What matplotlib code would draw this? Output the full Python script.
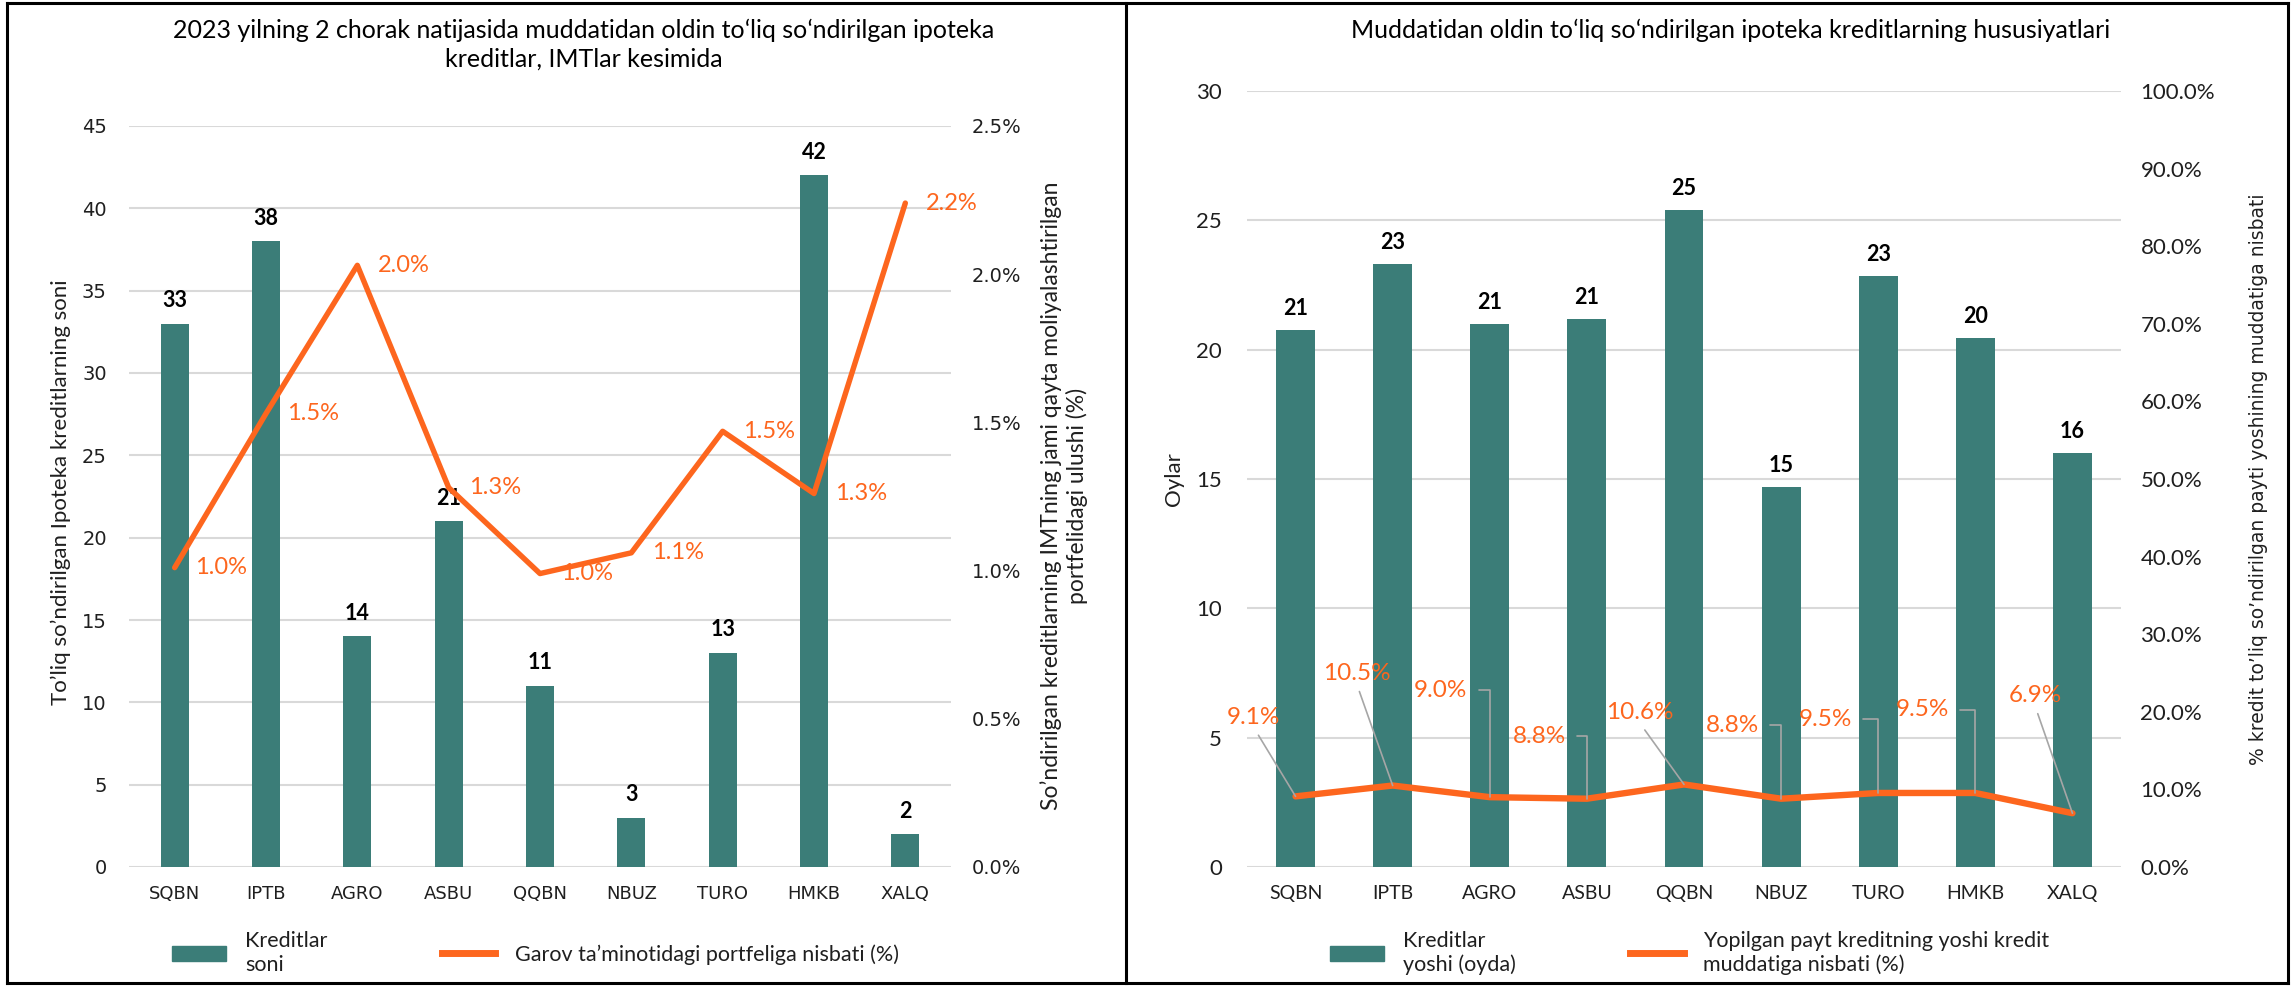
import numpy as np
import matplotlib
matplotlib.use('Agg')
import matplotlib.pyplot as plt
from matplotlib.patches import Patch
from matplotlib.lines import Line2D
from matplotlib.ticker import MultipleLocator, FuncFormatter

plt.rcParams['font.family'] = ['Lato', 'DejaVu Sans']

# Data
banks = ['SQBN', 'IPTB', 'AGRO', 'ASBU', 'QQBN', 'NBUZ', 'TURO', 'HMKB', 'XALQ']

# left chart: number of loans, share in collateral portfolio (%)
loan_count = [33, 38, 14, 21, 11, 3, 13, 42, 2]
collateral_share = [1.01, 1.53, 2.03, 1.28, 0.99, 1.06, 1.47, 1.26, 2.24]

# right chart: loan age in months, age / term ratio (%)
loan_age = [20.75, 23.3, 21.0, 21.2, 25.4, 14.7, 22.85, 20.45, 16.0]
age_to_term = [9.1, 10.5, 9.0, 8.8, 10.64, 8.8, 9.54, 9.54, 6.93]

TEAL = '#3b7d78'
ORANGE = '#fd661e'
GRID = '#d9d9d9'
TXT = '#1f1f1f'
WIDE = 'DejaVu Sans'

W, H = 2292, 986
fig = plt.figure(figsize=(W / 100, H / 100), dpi=100)


def add_ax(x0, y0, x1, y1):
    return fig.add_axes([x0 / W, 1 - y1 / H, (x1 - x0) / W, (y1 - y0) / H])


def clean(ax):
    for s in ax.spines.values():
        s.set_visible(False)
    ax.tick_params(length=0)


x = np.arange(len(banks))

# ---------------- left chart ----------------
ax1 = add_ax(129, 126, 951, 867)
ax1.bar(x, loan_count, width=0.31, color=TEAL, zorder=2)
ax1.set_xlim(-0.5, len(banks) - 0.5)
ax1.set_ylim(0, 45)
ax1.yaxis.set_major_locator(MultipleLocator(5))
ax1.grid(axis='y', color=GRID, lw=1.5)
ax1.set_axisbelow(True)
clean(ax1)
ax1.set_xticks(x)
ax1.set_xticklabels(banks, family=WIDE, fontsize=13, color=TXT)
ax1.tick_params(axis='x', pad=13)
ax1.tick_params(axis='y', pad=16, labelsize=14, labelcolor=TXT)
for lab in ax1.get_yticklabels():
    lab.set_family(WIDE)
for i, v in enumerate(loan_count):
    ax1.annotate(str(v), (i, v), xytext=(0, 9), textcoords='offset points',
                 ha='center', va='bottom', fontsize=15.5, fontweight='bold', color='black')

ax1b = ax1.twinx()
ax1b.plot(x, collateral_share, color=ORANGE, lw=3.9, solid_capstyle='round', solid_joinstyle='round')
ax1b.set_ylim(0, 2.5)
ax1b.yaxis.set_major_locator(MultipleLocator(0.5))
ax1b.yaxis.set_major_formatter(FuncFormatter(lambda v, p: f'{v:.1f}%'))
clean(ax1b)
ax1b.tick_params(axis='y', pad=15, labelsize=14, labelcolor=TXT)
for lab in ax1b.get_yticklabels():
    lab.set_family(WIDE)
for i, v in enumerate(collateral_share):
    ax1b.annotate(f'{v:.1f}%', (i, v), xytext=(15, 0), textcoords='offset points',
                  ha='left', va='center', fontsize=17, color=ORANGE)

fig.text(584 / W, 1 - 45 / H,
         '2023 yilning 2 chorak natijasida muddatidan oldin toʻliq soʻndirilgan ipoteka\nkreditlar, IMTlar kesimida',
         ha='center', va='center', fontsize=18, color='black', linespacing=1.3)
fig.text(61 / W, 1 - 492 / H, 'To’liq so’ndirilgan Ipoteka kreditlarning soni',
         rotation=90, ha='center', va='center', fontsize=16, color=TXT)
fig.text(1064 / W, 1 - 496 / H,
         'So’ndirilgan kreditlarning IMTning jami qayta moliyalashtirilgan\nportfelidagi ulushi (%)',
         rotation=90, ha='center', va='center', multialignment='center', fontsize=16.5, color=TXT)

fig.legend(handles=[Patch(color=TEAL), Line2D([], [], color=ORANGE, lw=5)],
           labels=['Kreditlar\nsoni', 'Garov ta’minotidagi portfeliga nisbati (%)'],
           loc='center left', bbox_to_anchor=(172 / W, 1 - 953 / H), ncol=2, frameon=False,
           fontsize=15.5, handlelength=2.5, handletextpad=0.9, columnspacing=5.3,
           borderaxespad=0, borderpad=0, labelcolor=TXT)

# ---------------- right chart ----------------
ax2 = add_ax(1247, 91, 2121, 867)
ax2.bar(x, loan_age, width=0.40, color=TEAL, zorder=2)
ax2.set_xlim(-0.5, len(banks) - 0.5)
ax2.set_ylim(0, 30)
ax2.yaxis.set_major_locator(MultipleLocator(5))
ax2.grid(axis='y', color=GRID, lw=1.5)
ax2.set_axisbelow(True)
clean(ax2)
ax2.set_xticks(x)
ax2.set_xticklabels(banks, fontsize=14, color=TXT)
ax2.tick_params(axis='x', pad=13)
ax2.tick_params(axis='y', pad=18, labelsize=16, labelcolor=TXT)
for i, v in enumerate(loan_age):
    ax2.annotate(f'{v:.0f}', (i, v), xytext=(0, 8), textcoords='offset points',
                 ha='center', va='bottom', fontsize=15.5, fontweight='bold', color='black')

ax2b = ax2.twinx()
ax2b.plot(x, age_to_term, color=ORANGE, lw=4.6, solid_capstyle='round', solid_joinstyle='round')
ax2b.set_ylim(0, 100)
ax2b.yaxis.set_major_locator(MultipleLocator(10))
ax2b.yaxis.set_major_formatter(FuncFormatter(lambda v, p: f'{v:.1f}%'))
clean(ax2b)
ax2b.tick_params(axis='y', pad=14, labelsize=16, labelcolor=TXT)

# label offsets (points) and leader style: 's' straight, 'e' elbow
lab_off = [(-30, 57), (-26, 81), (-16, 77), (-15, 45), (-32, 52), (-16, 53), (-19, 53), (-19, 60), (-27, 85)]
lab_kind = ['s', 's', 'e', 'e', 's', 'e', 'e', 'e', 's']
for i, v in enumerate(age_to_term):
    if lab_kind[i] == 's':
        ax2b.annotate(f'{v:.1f}%', (i, v), xytext=lab_off[i], textcoords='offset points',
                      ha='center', va='center', fontsize=17.5, color=ORANGE,
                      arrowprops=dict(arrowstyle='-', color='#a6a6a6', lw=1.2,
                                      relpos=(0.5, 0), shrinkA=4, shrinkB=0))
    else:
        ax2b.annotate(f'{v:.1f}%', (i, v), xytext=lab_off[i], textcoords='offset points',
                      ha='right', va='center', fontsize=17.5, color=ORANGE,
                      arrowprops=dict(arrowstyle='-', color='#a6a6a6', lw=1.2,
                                      connectionstyle='angle,angleA=0,angleB=90,rad=0',
                                      relpos=(1, 0.5), shrinkA=6, shrinkB=0))

fig.text(1731 / W, 1 - 30 / H,
         'Muddatidan oldin toʻliq soʻndirilgan ipoteka kreditlarning hususiyatlari',
         ha='center', va='center', fontsize=18, color='black')
fig.text(1174 / W, 1 - 479 / H, 'Oylar', rotation=90, ha='center', va='center',
         fontsize=16, color=TXT)
fig.text(2258 / W, 1 - 479 / H, '% kredit to’liq so’ndirilgan payti yoshining muddatiga nisbati',
         rotation=90, ha='center', va='center', fontsize=13.5, color=TXT, family=WIDE)

fig.legend(handles=[Patch(color=TEAL), Line2D([], [], color=ORANGE, lw=5)],
           labels=['Kreditlar\nyoshi (oyda)', 'Yopilgan payt kreditning yoshi kredit\nmuddatiga nisbati (%)'],
           loc='center left', bbox_to_anchor=(1330 / W, 1 - 953 / H), ncol=2, frameon=False,
           fontsize=15.5, handlelength=2.5, handletextpad=0.9, columnspacing=5.3,
           borderaxespad=0, borderpad=0, labelcolor=TXT)

# panel borders
for xs, ys in [((7, 7), (3, 983)), ((1126, 1126), (3, 983)), ((2288, 2288), (3, 983)),
               ((7, 2288), (3, 3)), ((7, 2288), (983, 983))]:
    fig.add_artist(Line2D([v / W for v in xs], [1 - v / H for v in ys], color='black', lw=2.2))

fig.savefig('out.png', dpi=100)
